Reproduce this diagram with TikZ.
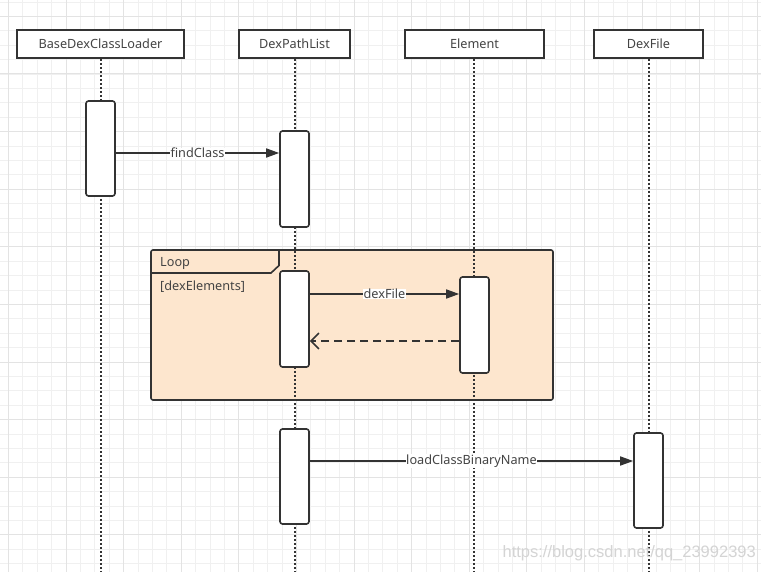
\documentclass[tikz,border=0pt]{standalone}
\usepackage{fontspec}
\setmainfont{Noto Sans}
\newfontfamily\wmfont{Liberation Sans}
\usetikzlibrary{arrows.meta,calc}
\definecolor{ln}{HTML}{333333}
\definecolor{tx}{HTML}{444444}
\definecolor{peach}{HTML}{FDE6CE}
\tikzset{
  head/.style={draw=ln,line width=1.6pt,fill=white,minimum height=28pt,inner sep=0pt,font=\fontsize{12.7}{14}\selectfont,text=tx},
  act/.style={draw=ln,line width=1.6pt,fill=white,rounded corners=2.5pt,minimum width=29pt,inner sep=0pt},
  life/.style={ln,line width=1.8pt,dash pattern=on 1.8pt off 2.2pt},
  msg/.style={ln,line width=1.6pt,-{Triangle[length=13pt,width=9pt]}},
  ret/.style={ln,line width=1.6pt,dash pattern=on 8pt off 5pt,-{Straight Barb[length=8pt,width=16pt,line width=1.6pt]}},
  lbl/.style={fill=white,inner sep=0.5pt,font=\fontsize{12.7}{14}\selectfont,text=tx},
  frametxt/.style={anchor=west,font=\fontsize{12.7}{14}\selectfont,text=tx,inner sep=0pt},
}
\begin{document}
\begin{tikzpicture}[x=1pt,y=-1pt]
\useasboundingbox (0,0) rectangle (761,572);
\fill[white] (0,0) rectangle (761,572);
% grid
\foreach \i in {0,...,53} {
  \pgfmathsetmacro{\xx}{8.4+14.4*(\i-1)}
  \draw[line width=0.8pt,color=black!6] (\xx,0) -- (\xx,572);
}
\foreach \i in {0,...,40} {
  \pgfmathsetmacro{\yy}{16.4+14.4*(\i-1)}
  \draw[line width=0.8pt,color=black!6] (0,\yy) -- (761,\yy);
}
\foreach \i in {0,...,13} {
  \pgfmathsetmacro{\xx}{8.4+57.6*\i}
  \draw[line width=1pt,color=black!11] (\xx,0) -- (\xx,572);
}
\foreach \i in {0,...,10} {
  \pgfmathsetmacro{\yy}{16.4+57.6*\i}
  \draw[line width=1pt,color=black!11] (0,\yy) -- (761,\yy);
}
% heads
\node[head,minimum width=167pt] (h1) at (100.5,44) {BaseDexClassLoader};
\node[head,minimum width=111pt] (h2) at (294.5,44) {DexPathList};
\node[head,minimum width=139pt] (h3) at (474.5,44) {Element};
\node[head,minimum width=109pt] (h4) at (648.5,44) {DexFile};
% lifeline ends
\coordinate (e1) at (101,572);
\coordinate (e2) at (295,572);
\coordinate (e3) at (474,572);
\coordinate (e4) at (649,572);
% loop frame
\fill[peach] (151,250) rectangle (553,400);
\draw[life] (h1.south -| e1) -- (e1);
\draw[life] (h2.south -| e2) -- (e2);
\draw[life] (h3.south -| e3) -- (e3);
\draw[life] (h4.south -| e4) -- (e4);
\draw[ln,line width=1.6pt,rounded corners=2pt] (151,250) rectangle (553,400);
\draw[ln,line width=1.6pt] (151,273) -- (271,273) -- (279,265.5) -- (279,250);
\node[frametxt] (loop) at (160,263) {Loop};
\node[frametxt] (guard) at (160,287) {[dexElements]};
% activations
\node[act,minimum height=95pt] (a1) at (100.5,148.5) {};
\node[act,minimum height=96pt] (a2) at (294.5,179) {};
\node[act,minimum height=96pt] (a3) at (294.5,319) {};
\node[act,minimum height=96pt] (a4) at (474.5,325) {};
\node[act,minimum height=95pt] (a5) at (294.5,476.5) {};
\node[act,minimum height=95pt] (a6) at (648.5,480.5) {};
% messages
\coordinate (y1) at (0,153);
\coordinate (y2) at (0,294);
\coordinate (y3) at (0,341);
\coordinate (y4) at (0,461);
\draw[msg] (a1.east |- y1) -- node[lbl,pos=0.5] {findClass} (a2.west |- y1);
\draw[msg] (a3.east |- y2) -- node[lbl,pos=0.5] {dexFile} (a4.west |- y2);
\draw[ret] (a4.west |- y3) -- (a3.east |- y3);
\draw[msg] (a5.east |- y4) -- node[lbl,pos=0.5] {loadClassBinaryName} (a6.west |- y4);
% watermark
\node[anchor=east,font=\fontsize{16.5}{18}\wmfont,text=black!17,inner sep=0pt] (wm) at (756,553) {https://blog.csdn.net/qq\_23992393};
\end{tikzpicture}
\end{document}
